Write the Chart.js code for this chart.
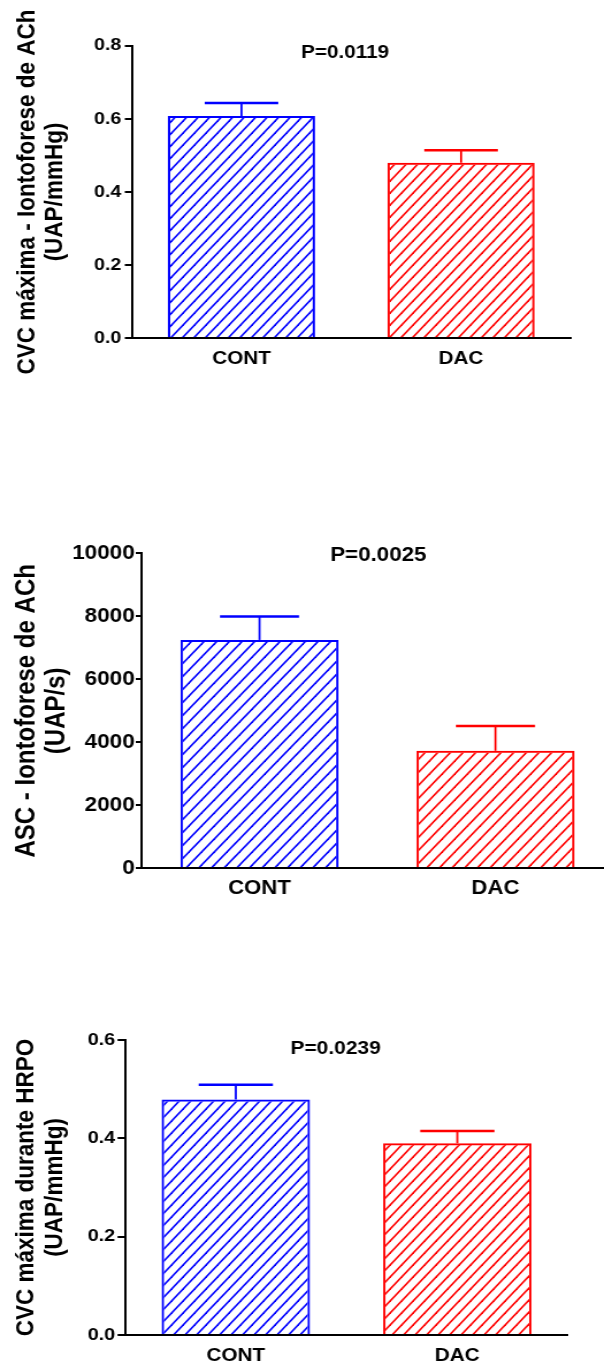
<!DOCTYPE html>
<html lang="pt">
<head>
<meta charset="utf-8">
<title>CVC e ASC - CONT vs DAC</title>
<script src="https://cdn.jsdelivr.net/npm/chart.js@4.4.1/dist/chart.umd.min.js"></script>
<style>
  html, body { margin: 0; padding: 0; background: #ffffff; }
  body { width: 604px; height: 1369px; overflow: hidden; position: relative; }
  canvas { position: absolute; left: 0; }
</style>
</head>
<body>
<canvas id="painelCvcAch"></canvas>
<canvas id="painelAscAch"></canvas>
<canvas id="painelHrpo"></canvas>
<script>
// ---- data ----
const categories = ['CONT', 'DAC'];

// CVC máxima durante iontoforese de ACh (UAP/mmHg)
const cvcAchMean = [0.608, 0.480];
const cvcAchSem = [0.035, 0.034];
const cvcAchTicks = [0, 0.2, 0.4, 0.6, 0.8];
const cvcAchTickLabels = ['0.0', '0.2', '0.4', '0.6', '0.8'];
const cvcAchTitle = ['CVC máxima - Iontoforese de ACh', '(UAP/mmHg)'];
const cvcAchP = 'P=0.0119';

// ASC durante iontoforese de ACh (UAP/s)
const ascAchMean = [7250, 3730];
const ascAchSem = [740, 790];
const ascAchTicks = [0, 2000, 4000, 6000, 8000, 10000];
const ascAchTickLabels = ['0', '2000', '4000', '6000', '8000', '10000'];
const ascAchTitle = ['ASC - Iontoforese de ACh', '(UAP/s)'];
const ascAchP = 'P=0.0025';

// CVC máxima durante HRPO (UAP/mmHg)
const hrpoMean = [0.479, 0.390];
const hrpoSem = [0.030, 0.025];
const hrpoTicks = [0, 0.2, 0.4, 0.6];
const hrpoTickLabels = ['0.0', '0.2', '0.4', '0.6'];
const hrpoTitle = ['CVC máxima durante HRPO', '(UAP/mmHg)'];
const hrpoP = 'P=0.0239';

// ---- styling ----
const BLUE = '#0000FF';
const RED = '#FF0000';
const barColors = [BLUE, RED];
const FONT = '"Liberation Sans", Arial, Helvetica, sans-serif';
const STRETCH = 1.15; // the panels are drawn slightly condensed, then widened

function hatchPattern(ctx, color, w, h) {
  const tile = document.createElement('canvas');
  tile.width = w; tile.height = h;
  const t = tile.getContext('2d');
  t.strokeStyle = color;
  t.lineWidth = 1.6;
  t.lineCap = 'square';
  [-w, 0, w].forEach(dx => {
    t.beginPath();
    t.moveTo(dx, h);
    t.lineTo(dx + w, 0);
    t.stroke();
  });
  return ctx.createPattern(tile, 'repeat');
}

// error bars (upper half only), axis title and P annotation
function panelDecor(cfg) {
  return {
    id: 'panelDecor',
    afterDatasetsDraw(chart) {
      const ctx = chart.ctx;
      const yScale = chart.scales.y;
      const meta = chart.getDatasetMeta(0);
      meta.data.forEach((bar, i) => {
        const capY = yScale.getPixelForValue(cfg.mean[i] + cfg.sem[i]);
        const half = bar.width / 4;
        ctx.save();
        ctx.strokeStyle = barColors[i];
        ctx.lineWidth = 1.8;
        ctx.beginPath();
        ctx.moveTo(bar.x, bar.y);
        ctx.lineTo(bar.x, capY);
        ctx.stroke();
        ctx.lineWidth = 2.5;
        ctx.beginPath();
        ctx.moveTo(bar.x - half, capY);
        ctx.lineTo(bar.x + half, capY);
        ctx.stroke();
        ctx.restore();
      });
    },
    afterDraw(chart) {
      const ctx = chart.ctx;
      const area = chart.chartArea;
      const midY = (area.top + area.bottom) / 2;
      ctx.save();
      ctx.fillStyle = '#000';
      ctx.textAlign = 'center';
      ctx.textBaseline = 'middle';
      ctx.font = `bold ${cfg.titleSize}px ${FONT}`;
      cfg.title.forEach((line, k) => {
        ctx.save();
        ctx.translate(cfg.titleX[k], midY);
        ctx.rotate(-Math.PI / 2);
        ctx.fillText(line, 0, 0);
        ctx.restore();
      });
      ctx.font = `bold ${cfg.pSize}px ${FONT}`;
      ctx.fillText(cfg.pText, cfg.pX, cfg.pY);
      ctx.restore();
    }
  };
}

function buildPanel(id, cfg) {
  const canvas = document.getElementById(id);
  canvas.width = cfg.width;
  canvas.height = cfg.height;
  canvas.style.width = (cfg.width * STRETCH) + 'px';
  canvas.style.height = cfg.height + 'px';
  canvas.style.top = cfg.top + 'px';
  const ctx = canvas.getContext('2d');

  return new Chart(ctx, {
    type: 'bar',
    data: {
      labels: categories,
      datasets: [{
        data: cfg.mean,
        backgroundColor: barColors.map(c => hatchPattern(ctx, c, cfg.hatch[0], cfg.hatch[1])),
        borderColor: barColors,
        borderWidth: 2,
        borderSkipped: 'start',
        categoryPercentage: 1,
        barPercentage: 0.67
      }]
    },
    options: {
      responsive: false,
      animation: false,
      devicePixelRatio: 1,
      events: [],
      layout: {
        padding: { left: 0, top: cfg.area.top, right: cfg.width - cfg.area.right, bottom: 0 }
      },
      plugins: {
        legend: { display: false },
        tooltip: { enabled: false },
        title: { display: false }
      },
      scales: {
        x: {
          grid: { display: false, drawTicks: false },
          border: { display: true, color: '#000', width: 2 },
          ticks: {
            color: '#000',
            padding: cfg.xPad,
            font: { family: FONT, size: cfg.catSize, weight: 'bold', lineHeight: 1.2 }
          },
          afterFit(scale) { scale.height = cfg.height - cfg.area.bottom; }
        },
        y: {
          min: 0,
          max: cfg.ticks[cfg.ticks.length - 1],
          afterBuildTicks(scale) { scale.ticks = cfg.ticks.map(v => ({ value: v })); },
          ticks: {
            color: '#000',
            padding: cfg.yPad,
            callback: (value, index) => cfg.tickLabels[index],
            font: { family: FONT, size: cfg.tickSize, weight: 'bold' }
          },
          grid: {
            drawOnChartArea: false,
            drawTicks: true,
            tickLength: cfg.tickLen,
            color: '#000',
            lineWidth: 2
          },
          border: { display: true, color: '#000', width: 2 },
          afterFit(scale) { scale.width = cfg.area.left; }
        }
      }
    },
    plugins: [panelDecor(cfg)]
  });
}

buildPanel('painelCvcAch', {
  top: 0, width: 526, height: 400,
  area: { left: 114.5, right: 496.3, top: 45.7, bottom: 338.3 },
  mean: cvcAchMean, sem: cvcAchSem,
  ticks: cvcAchTicks, tickLabels: cvcAchTickLabels,
  title: cvcAchTitle, titleX: [23.9, 47.4], titleSize: 22.5,
  pText: cvcAchP, pX: 300, pY: 53, pSize: 18,
  tickSize: 17, catSize: 18, xPad: 9.9, yPad: 3, tickLen: 6,
  hatch: [10, 12]
});

buildPanel('painelAscAch', {
  top: 500, width: 550, height: 410,
  area: { left: 123, right: 533, top: 53.3, bottom: 368.3 },
  mean: ascAchMean, sem: ascAchSem,
  ticks: ascAchTicks, tickLabels: ascAchTickLabels,
  title: ascAchTitle, titleX: [23.5, 49.1], titleSize: 24,
  pText: ascAchP, pX: 328.7, pY: 55.5, pSize: 19.4,
  tickSize: 19.5, catSize: 19.3, xPad: 8.4, yPad: 1, tickLen: 5,
  hatch: [11, 13]
});

buildPanel('painelHrpo', {
  top: 1000, width: 526, height: 369,
  area: { left: 108.7, right: 493.9, top: 40, bottom: 335 },
  mean: hrpoMean, sem: hrpoSem,
  ticks: hrpoTicks, tickLabels: hrpoTickLabels,
  title: hrpoTitle, titleX: [22.6, 47.5], titleSize: 22.5,
  pText: hrpoP, pX: 291.8, pY: 49.2, pSize: 18.2,
  tickSize: 17.3, catSize: 18, xPad: 10, yPad: 2, tickLen: 6.5,
  hatch: [10, 12]
});
</script>
</body>
</html>
